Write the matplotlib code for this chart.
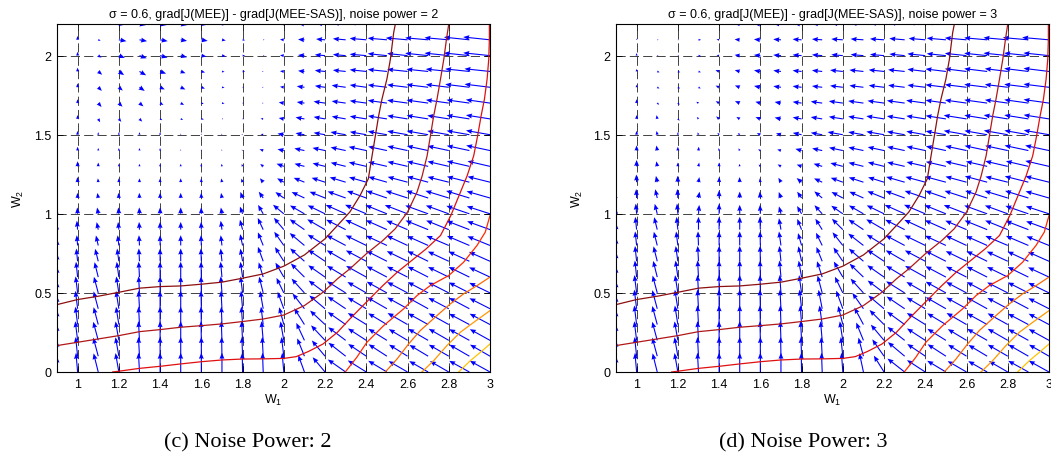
import numpy as np
import matplotlib
matplotlib.use('Agg')
import matplotlib.pyplot as plt

plt.rcParams['font.family'] = ['Liberation Sans', 'DejaVu Sans']
plt.rcParams['mathtext.default'] = 'regular'

# quiver grid
w1_grid = [0.9, 1.0, 1.1, 1.2, 1.3, 1.4, 1.5, 1.6, 1.7, 1.8, 1.9,
           2.0, 2.1, 2.2, 2.3, 2.4, 2.5, 2.6, 2.7, 2.8, 2.9, 3.0]
w2_grid = [2.2, 2.1, 2.0, 1.9, 1.8, 1.7, 1.6, 1.5, 1.4, 1.3, 1.2, 1.1,
           1.0, 0.9, 0.8, 0.7, 0.6, 0.5, 0.4, 0.3, 0.2, 0.1, 0.0]

# arrow length (pixels) and direction (degrees), one row per w2 value (top first)
len_c = [
    "1 2 2 4 5 5 5 4 3 2 1 3 5 7 10 13 15 17 18 19 20 21",
    "1 3 2 6 6 6 5 5 3 2 1 3 5 7 10 13 15 17 18 19 20 21",
    "1 3 3 5 6 6 5 4 3 2 1 3 5 8 10 13 15 16 18 19 20 21",
    "1 3 4 5 6 5 4 3 2 2 1 3 5 8 10 13 15 16 17 18 19 20",
    "1 3 4 4 5 4 4 3 2 1 1 3 6 8 11 13 15 16 17 18 19 20",
    "1 3 4 4 4 3 3 2 2 1 1 4 6 9 11 13 15 16 17 18 18 19",
    "1 3 3 3 3 2 2 2 1 1 2 4 7 9 11 13 15 16 17 17 18 19",
    "1 3 2 2 2 2 1 1 1 1 2 5 7 9 12 13 15 16 17 17 18 19",
    "1 3 2 2 2 2 1 1 1 1 3 5 8 10 12 14 15 16 17 17 18 19",
    "1 4 3 2 2 2 2 2 2 2 3 6 8 10 12 14 15 16 17 17 18 18",
    "2 4 3 3 3 3 3 3 3 3 4 6 9 11 13 14 15 16 17 17 18 18",
    "2 4 4 4 4 4 4 4 4 5 6 8 11 13 15 16 17 18 18 19 19 19",
    "3 5 5 5 5 5 5 5 5 6 8 11 13 15 17 18 18 19 19 19 19 19",
    "4 7 6 6 6 6 6 6 7 8 10 12 14 16 17 18 18 18 19 19 19 19",
    "5 8 8 8 8 8 8 8 8 9 11 13 15 16 17 18 18 18 18 19 19 19",
    "6 10 10 10 10 10 10 10 10 10 12 13 15 16 17 18 18 18 18 18 18 18",
    "8 12 12 12 12 12 12 12 12 12 12 13 15 16 17 18 18 18 18 18 18 18",
    "9 13 13 13 13 13 13 13 13 13 13 13 15 16 17 17 18 18 18 18 18 18",
    "10 14 14 14 14 14 14 14 14 14 14 14 15 16 17 17 18 18 18 18 18 18",
    "11 14 14 14 14 14 14 14 14 14 14 14 15 16 17 17 17 18 18 18 18 18",
    "12 15 15 15 15 15 15 15 15 15 15 15 15 16 17 17 17 17 18 18 18 18",
    "12 15 15 15 15 15 15 15 15 15 15 15 15 16 17 17 17 17 17 18 18 18",
    "12 15 15 15 15 15 15 15 15 15 15 15 14 15 17 17 17 17 17 17 18 18",
]
ang_c = [
    "90 90 -10 -10 -10 -10 -10 -10 -10 -10 0 175 175 175 175 175 175 175 175 175 175 175",
    "90 90 -20 -10 -10 -10 -10 -10 -10 -10 0 176 176 175 175 175 175 175 175 175 174 174",
    "90 90 -30 -20 -20 -15 -15 -10 -10 0 0 175 175 175 175 175 174 174 174 174 174 174",
    "90 90 -40 -35 -30 -20 -20 -15 -10 0 180 175 174 174 174 174 174 174 174 174 174 174",
    "90 90 -45 -40 -35 -25 -25 -20 -10 0 180 172 172 172 172 172 173 173 173 173 173 173",
    "90 90 -50 -45 -40 -30 -30 -20 -10 0 180 172 172 172 172 172 172 172 172 172 172 172",
    "90 90 -60 -50 -45 -30 -20 -10 0 0 175 170 170 170 170 171 171 171 171 171 171 171",
    "90 90 90 90 90 90 90 90 120 150 165 170 170 170 170 170 170 170 170 170 170 170",
    "90 90 90 90 90 90 90 90 110 140 160 168 168 168 168 168 168 168 168 168 168 168",
    "90 90 90 90 90 90 90 95 100 110 140 160 165 166 166 167 167 167 167 167 167 167",
    "90 92 95 92 90 90 90 92 100 110 130 150 158 162 163 164 164 165 165 166 166 166",
    "90 92 100 95 92 90 90 92 100 110 125 145 155 158 160 160 161 162 162 163 163 164",
    "90 93 100 95 92 90 90 92 100 110 120 140 150 154 156 157 158 159 160 160 161 162",
    "90 95 102 96 93 90 90 92 98 105 115 130 145 150 153 155 156 157 158 158 159 160",
    "90 95 103 97 93 90 90 92 97 102 112 125 140 148 152 154 155 155 156 157 157 158",
    "90 96 104 98 93 90 90 92 96 100 110 122 138 146 150 152 153 154 154 155 155 156",
    "90 96 104 98 93 90 90 91 95 98 107 120 135 145 149 151 152 153 153 154 154 155",
    "90 97 105 99 93 90 90 91 94 97 104 116 132 143 148 150 151 152 152 153 153 154",
    "90 97 105 99 93 90 90 91 93 95 100 110 128 140 146 149 150 151 151 152 152 153",
    "90 97 105 99 93 90 90 91 92 94 97 105 122 137 145 148 149 150 151 151 152 152",
    "90 97 105 100 93 90 90 91 92 93 95 100 115 133 143 147 148 149 150 150 151 151",
    "90 96 105 100 93 90 90 90 91 92 93 97 112 130 142 146 147 148 149 150 150 150",
    "90 95 104 100 93 90 90 90 90 91 92 95 110 130 145 148 149 150 150 150 151 151",
]
len_d = [
    "1 1 1 1 1 2 4 5 6 6 8 9 10 11 12 13 15 17 18 19 20 21",
    "1 1 1 1 2 2 4 5 6 7 8 9 10 11 12 13 15 17 18 19 20 21",
    "1 2 1 1 2 2 4 5 6 7 8 9 10 11 12 14 15 17 18 19 19 20",
    "1 2 2 2 2 3 4 5 6 7 8 10 11 12 13 14 16 17 18 18 19 20",
    "1 2 2 2 2 3 4 5 6 7 8 10 11 12 13 14 16 17 18 18 19 20",
    "1 3 2 2 2 3 4 4 5 7 9 11 12 13 14 15 16 17 18 18 19 20",
    "1 3 3 2 2 3 3 4 5 7 9 11 12 14 14 15 16 18 18 19 19 20",
    "1 3 3 2 2 2 2 3 4 7 9 12 12 14 14 15 16 18 18 19 19 20",
    "1 4 4 3 3 2 2 2 3 5 8 11 12 13 14 15 16 17 18 18 19 19",
    "2 5 4 3 3 3 2 2 3 4 7 10 12 13 14 15 16 17 17 18 18 19",
    "2 6 5 5 4 4 4 3 4 5 7 10 12 13 15 16 17 17 18 18 19 19",
    "3 7 7 7 5 6 5 5 5 6 8 10 12 14 16 17 17 18 18 19 19 19",
    "4 8 8 8 7 8 7 7 6 7 9 11 13 15 17 18 18 19 19 19 19 19",
    "5 10 10 10 10 10 10 10 9 9 10 12 14 16 17 18 18 18 19 19 19 19",
    "6 11 11 11 11 11 11 11 11 10 11 13 15 16 17 18 18 18 18 19 19 19",
    "7 12 12 12 12 12 12 12 12 12 12 13 15 16 17 18 18 18 18 18 18 18",
    "8 13 13 13 13 13 13 13 13 13 13 14 15 16 17 18 18 18 18 18 18 18",
    "9 14 14 14 14 14 14 14 14 14 14 14 15 16 17 17 18 18 18 18 18 18",
    "10 15 15 15 15 15 15 15 15 15 15 15 15 16 17 17 18 18 18 18 18 18",
    "11 15 15 15 15 15 15 15 15 15 15 15 15 16 17 17 17 18 18 18 18 18",
    "12 15 15 15 15 15 15 15 15 15 15 15 15 16 17 17 17 17 18 18 18 18",
    "12 15 15 15 15 15 15 15 15 15 15 15 15 16 17 17 17 17 17 18 18 18",
    "12 15 15 15 15 15 15 15 15 15 15 15 15 15 17 17 17 17 17 17 18 18",
]
ang_d = [
    "90 90 0 0 0 180 178 178 177 177 177 176 176 176 176 175 175 175 175 175 175 175",
    "90 90 0 0 0 170 175 176 176 176 176 176 176 176 175 175 175 175 175 175 175 175",
    "90 90 0 0 -10 170 172 174 175 175 175 175 175 175 174 174 174 174 174 174 174 174",
    "90 90 -20 -20 -20 160 165 170 173 174 174 174 174 174 174 173 173 173 173 173 173 173",
    "90 90 -30 -30 -30 155 160 168 172 173 173 173 173 173 173 173 173 173 173 173 173 173",
    "90 90 -40 -40 150 150 158 165 170 172 172 172 172 172 172 172 172 172 172 172 172 172",
    "90 90 100 -45 130 140 150 160 168 170 171 171 171 171 171 171 171 171 171 171 171 171",
    "90 90 100 90 110 130 140 155 165 168 170 170 170 170 170 170 170 170 170 170 170 170",
    "90 90 100 90 85 100 120 150 165 165 168 168 168 168 168 168 168 168 168 168 168 168",
    "90 90 100 90 80 90 100 130 150 160 163 165 166 166 167 167 167 167 167 167 167 167",
    "90 92 102 92 80 90 92 100 120 140 155 160 162 163 164 165 165 165 165 166 166 166",
    "90 93 103 93 80 90 90 95 110 125 140 152 156 158 160 161 161 162 162 163 163 164",
    "90 95 104 95 85 90 90 92 105 120 132 145 150 154 156 157 158 159 160 160 161 162",
    "90 96 104 96 90 90 90 92 100 112 122 135 146 150 153 155 156 157 158 158 159 160",
    "90 96 104 97 92 90 90 91 98 106 116 128 142 148 152 154 155 155 156 157 157 158",
    "90 96 104 98 93 90 90 91 96 102 112 124 139 146 150 152 153 154 154 155 155 156",
    "90 96 104 98 93 90 90 91 95 100 108 120 136 145 149 151 152 153 153 154 154 155",
    "90 97 105 99 93 90 90 91 94 98 105 116 132 143 148 150 151 152 152 153 153 154",
    "90 97 105 99 93 90 90 91 93 96 101 110 125 140 146 149 150 151 151 152 152 153",
    "90 97 105 99 93 90 90 91 92 94 98 104 118 135 144 148 149 150 151 151 152 152",
    "90 97 105 100 93 90 90 91 92 93 95 99 112 130 142 147 148 149 150 150 151 151",
    "90 96 105 100 93 90 90 90 91 92 93 96 105 125 140 146 147 148 149 150 150 150",
    "90 95 104 100 93 90 90 90 90 91 92 94 102 122 142 147 149 150 150 150 151 151",
]

# contour lines of the cost surface (w1, w2)
c1_w1 = [0.9, 1.0, 1.1, 1.2, 1.3, 1.4, 1.5, 1.6, 1.7, 1.8, 1.9, 2.0, 2.1, 2.2, 2.26,
         2.32, 2.37, 2.41, 2.428, 2.444, 2.46, 2.476, 2.50, 2.517, 2.533, 2.541]
c1_w2 = [0.426, 0.458, 0.479, 0.504, 0.53, 0.54, 0.544, 0.555, 0.568, 0.593, 0.62, 0.669,
         0.74, 0.842, 0.926, 1.011, 1.116, 1.222, 1.367, 1.493, 1.62, 1.725, 1.852, 1.978,
         2.147, 2.2]
c2_w1 = [0.9, 1.0, 1.1, 1.2, 1.3, 1.4, 1.5, 1.6, 1.7, 1.8, 1.9, 2.0, 2.1, 2.19, 2.26,
         2.32, 2.40, 2.48, 2.54, 2.60, 2.646, 2.671, 2.695, 2.711, 2.727, 2.743, 2.76,
         2.776, 2.789, 2.80]
c2_w2 = [0.167, 0.188, 0.209, 0.23, 0.255, 0.268, 0.283, 0.293, 0.304, 0.319, 0.335, 0.36,
         0.42, 0.504, 0.589, 0.652, 0.747, 0.831, 0.905, 1.011, 1.137, 1.24, 1.367, 1.493,
         1.62, 1.725, 1.852, 1.978, 2.105, 2.2]
c3_w1 = [1.17, 1.2, 1.3, 1.4, 1.5, 1.6, 1.7, 1.8, 1.9, 2.0, 2.06, 2.12, 2.19, 2.26, 2.32,
         2.40, 2.48, 2.55, 2.61, 2.69, 2.76, 2.81, 2.85, 2.889, 2.921, 2.94, 2.957, 2.973,
         2.986, 2.994, 2.997, 2.997]
c3_w2 = [0.0, 0.005, 0.023, 0.036, 0.051, 0.065, 0.076, 0.082, 0.083, 0.086, 0.097, 0.13,
         0.177, 0.251, 0.335, 0.441, 0.546, 0.631, 0.694, 0.778, 0.863, 0.989, 1.116, 1.24,
         1.367, 1.493, 1.62, 1.725, 1.852, 1.978, 2.105, 2.2]
c4_w1 = [2.298, 2.354, 2.403, 2.484, 2.581, 2.646, 2.71, 2.8, 2.872, 2.937, 2.977, 3.0]
c4_w2 = [0.0, 0.093, 0.188, 0.293, 0.399, 0.483, 0.546, 0.61, 0.694, 0.80, 0.884, 0.989]
c5_w1 = [2.492, 2.549, 2.605, 2.662, 2.743, 2.807, 2.872, 2.937, 3.0]
c5_w2 = [0.0, 0.082, 0.177, 0.262, 0.357, 0.43, 0.494, 0.546, 0.60]
c6_w1 = [2.67, 2.727, 2.791, 2.856, 2.921, 3.0]
c6_w2 = [0.0, 0.072, 0.167, 0.251, 0.314, 0.388]
c7_w1 = [2.848, 2.905, 2.953, 3.0]
c7_w2 = [0.0, 0.072, 0.124, 0.177]

contours = [(c1_w1, c1_w2), (c2_w1, c2_w2), (c3_w1, c3_w2), (c4_w1, c4_w2),
            (c5_w1, c5_w2), (c6_w1, c6_w2), (c7_w1, c7_w2)]
contour_colors = ['#8c1010', '#b01818', '#e01010', '#ff2a00', '#ff6a00', '#ff9900', '#ffc400']

xticks = [1, 1.2, 1.4, 1.6, 1.8, 2, 2.2, 2.4, 2.6, 2.8, 3]
xticklabels = ['1', '1.2', '1.4', '1.6', '1.8', '2', '2.2', '2.4', '2.6', '2.8', '3']
yticks = [0, 0.5, 1, 1.5, 2]
yticklabels = ['0', '0.5', '1', '1.5', '2']

panels = [
    ('σ = 0.6, grad[J(MEE)] - grad[J(MEE-SAS)], noise power = 2', len_c, ang_c,
     '(c) Noise Power: 2'),
    ('σ = 0.6, grad[J(MEE)] - grad[J(MEE-SAS)], noise power = 3', len_d, ang_d,
     '(d) Noise Power: 3'),
]


def to_array(rows):
    return np.array([r.split() for r in rows], dtype=float)


fig = plt.figure(figsize=(10.51, 4.77), dpi=100)
lefts = [57 / 1051, 616 / 1051]
caption_x = [248 / 1051, 803 / 1051]

for i, (title, lens, angs, caption) in enumerate(panels):
    ax = fig.add_axes([lefts[i], 104 / 477, 433 / 1051, 348 / 477])
    X, Y = np.meshgrid(w1_grid, w2_grid)
    L = to_array(lens)
    A = np.deg2rad(to_array(angs))
    U = L * np.cos(A)
    V = L * np.sin(A)
    ax.quiver(X, Y, U, V, angles='uv', scale_units='dots', scale=0.78, units='dots',
              width=1.1, headwidth=4.5, headlength=5.5, headaxislength=5,
              color='#0000ff', pivot='tail', zorder=2)
    for (cx, cy), col in zip(contours, contour_colors):
        ax.plot(cx, cy, color=col, lw=0.9, zorder=3)

    ax.set_xlim(0.9, 3.0)
    ax.set_ylim(0, 2.2)
    ax.set_xticks(xticks)
    ax.set_xticklabels(xticklabels)
    ax.set_yticks(yticks)
    ax.set_yticklabels(yticklabels)
    ax.set_axisbelow(True)
    ax.grid(True, color='#222222', linestyle=(0, (11, 5)), linewidth=0.6)
    ax.tick_params(direction='in', length=4, width=0.6, top=True, right=True,
                   labelsize=9, pad=4)
    for sp in ax.spines.values():
        sp.set_linewidth(0.8)
        sp.set_zorder(5)
    ax.set_title(title, fontsize=9, pad=5)
    ax.set_xlabel('W$_1$', fontsize=9, labelpad=2)
    ax.set_ylabel('W$_2$', fontsize=9, labelpad=6)

    fig.text(caption_x[i], 30 / 477, caption, ha='center', va='baseline',
             family=['Liberation Serif'], fontsize=16)

fig.savefig('out.png', dpi=100)
